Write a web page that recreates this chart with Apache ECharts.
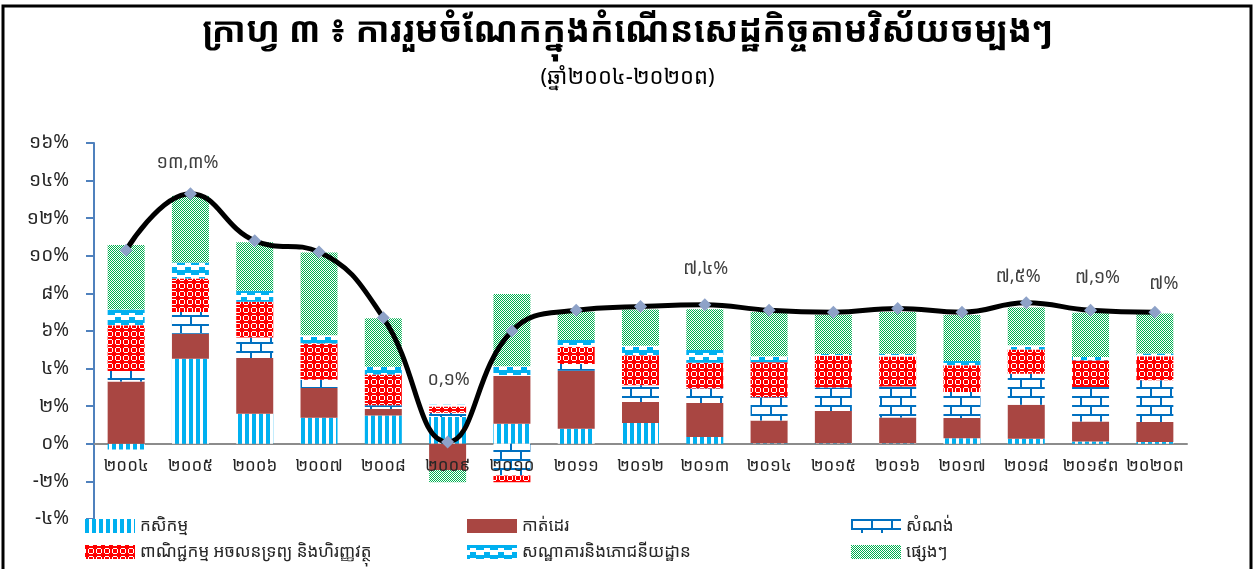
<!DOCTYPE html>
<html>
<head>
<meta charset="utf-8">
<script src="https://cdn.jsdelivr.net/npm/echarts@6/dist/echarts.min.js"></script>
<style>
  html,body{margin:0;padding:0;background:#fff;}
  #main{width:1255px;height:569px;}
</style>
</head>
<body>
<div id="main"></div>
<script>
// ឆ្នាំ
const years = ['២០០៤','២០០៥','២០០៦','២០០៧','២០០៨','២០០៩','២០១០','២០១១','២០១២','២០១៣','២០១៤','២០១៥','២០១៦','២០១៧','២០១៨','២០១៩ព','២០២០ព']

// ការរួមចំណែកតាមវិស័យ (%)
const agri         = [-0.30, 4.53, 1.60, 1.39, 1.51, 1.42, 1.07, 0.80, 1.10, 0.36, 0.03, 0.03, 0.03, 0.30, 0.27, 0.12, 0.09]
const garment      = [3.32, 1.33, 2.97, 1.58, 0.34, -1.39, 2.54, 3.08, 1.12, 1.81, 1.21, 1.72, 1.37, 1.07, 1.81, 1.07, 1.07]
const construction = [0.55, 1.15, 1.08, 0.44, 0.20, 0.23, -1.69, 0.36, 0.89, 0.77, 1.23, 1.24, 1.65, 1.39, 1.65, 1.83, 2.22]
const trade        = [2.44, 1.78, 1.90, 1.92, 1.64, 0.34, -0.36, 0.92, 1.60, 1.37, 1.87, 1.69, 1.60, 1.42, 1.28, 1.42, 1.28]
const hotel        = [0.84, 0.85, 0.59, 0.44, 0.41, 0.09, 0.52, 0.36, 0.50, 0.68, 0.32, 0.09, 0.14, 0.23, 0.23, 0.18, 0.14]
const other        = [3.43, 3.56, 2.58, 4.41, 2.58, -0.66, 3.84, 1.51, 1.94, 2.17, 2.35, 2.10, 2.22, 2.44, 2.01, 2.35, 2.13]

// កំណើនសេដ្ឋកិច្ចសរុប (%)
const growth = [10.3, 13.3, 10.8, 10.2, 6.7, 0.1, 6.0, 7.1, 7.3, 7.4, 7.1, 7.0, 7.2, 7.0, 7.5, 7.1, 7.0]
// ចំណុចដែលមានស្លាក
const labelIdx = [1, 5, 9, 14, 15, 16]

const names = ['កសិកម្ម','កាត់ដេរ','សំណង់','ពាណិជ្ជកម្ម អចលនទ្រព្យ និងហិរញ្ញវត្ថុ','សណ្ឋាគារនិងភោជនីយដ្ឋាន','ផ្សេងៗ']

const khFont = "'Noto Sans Khmer','Khmer OS Battambang','Noto Sans',sans-serif"
const khDigits = '០១២៣៤៥៦៧៨៩'
function toKh(s){
  return String(s).replace(/[0-9]/g, d => khDigits[+d])
}
function pctLabel(v){
  let s = (v % 1 === 0) ? String(v) : v.toFixed(1).replace('.', ',')
  return toKh(s) + '%'
}

// pattern fills, drawn on small canvases
function pattern(w, h, draw){
  let c = document.createElement('canvas')
  c.width = w; c.height = h
  let ctx = c.getContext('2d')
  ctx.fillStyle = '#fff'
  ctx.fillRect(0, 0, w, h)
  draw(ctx)
  return {image: c, repeat: 'repeat'}
}
const pStripes = pattern(7, 4, ctx => {
  ctx.fillStyle = '#00B0F0'
  ctx.fillRect(0, 0, 4, 4)
})
const pBrick = pattern(20, 18, ctx => {
  ctx.fillStyle = '#0070C0'
  ctx.fillRect(0, 0, 20, 2)
  ctx.fillRect(0, 9, 20, 2)
  ctx.fillRect(0, 0, 2, 9)
  ctx.fillRect(10, 9, 2, 9)
})
const pCheck = pattern(8, 8, ctx => {
  ctx.fillStyle = '#FF0000'
  ctx.fillRect(0, 0, 4, 4)
  ctx.fillRect(4, 4, 4, 4)
  ctx.fillRect(1, 4, 2, 4)
  ctx.fillRect(4, 1, 4, 2)
})
const pHotel = pattern(14, 10, ctx => {
  ctx.fillStyle = '#00B0F0'
  ctx.fillRect(0, 0, 14, 3)
  ctx.fillRect(0, 3, 3, 2)
  ctx.fillRect(9, 3, 5, 2)
  ctx.fillRect(3, 7, 6, 3)
})
const pGreen = pattern(2, 2, ctx => {
  ctx.fillStyle = '#00B050'
  ctx.fillRect(0, 0, 1, 1)
  ctx.fillRect(1, 1, 1, 1)
})
const fills = [pStripes, '#A94642', pBrick, pCheck, pHotel, pGreen]
const sectorData = [agri, garment, construction, trade, hotel, other]

// label placement per labelled point
const labelStyle = {
  1: {distance: 15, offset: [-3, 0]},
  5: {distance: 47, offset: [1, 0]},
  9: {distance: 20, offset: [1, 0]},
  14: {distance: 10, offset: [-8, 0]},
  15: {distance: 17, offset: [7, 0]},
  16: {distance: 13, offset: [9, 0]}
}

let lineData = growth.map((v, i) => {
  if (labelIdx.indexOf(i) < 0) return v
  let st = labelStyle[i]
  return {
    value: v,
    label: {
      show: true, position: 'top', distance: st.distance, offset: st.offset,
      formatter: p => pctLabel(p.value),
      fontSize: 18, color: '#404040', fontFamily: khFont
    }
  }
})

let series = sectorData.map((d, i) => ({
  name: names[i],
  type: 'bar',
  stack: 'total',
  barWidth: 37,
  data: d,
  itemStyle: {color: fills[i]},
  emphasis: {disabled: true}
}))
series.push({
  name: 'កំណើន',
  type: 'line',
  data: lineData,
  smooth: 0.45,
  z: 10,
  symbol: 'diamond',
  symbolSize: 13,
  itemStyle: {color: '#8EA2C8'},
  lineStyle: {color: '#000', width: 5},
  label: {show: false}
})

const legendBase = {
  orient: 'vertical',
  top: 516,
  padding: 0,
  itemWidth: 50,
  itemHeight: 14,
  itemGap: 6,
  icon: 'rect',
  textStyle: {fontSize: 17, color: '#262626', fontFamily: khFont, lineHeight: 20}
}

let chart = echarts.init(document.getElementById('main'), null, {renderer: 'canvas'})
chart.setOption({
  animation: false,
  textStyle: {fontFamily: khFont},
  title: [{
    text: 'ក្រាហ្វ ៣ ៖ ការរួមចំណែកក្នុងកំណើនសេដ្ឋកិច្ចតាមវិស័យចម្បងៗ',
    left: 'center', top: 10,
    textStyle: {fontSize: 35, fontWeight: 'bold', color: '#000', fontFamily: khFont}
  }, {
    text: '(ឆ្នាំ' + toKh('2004') + '-' + toKh('2020') + 'ព)',
    left: 'center', top: 62,
    textStyle: {fontSize: 22, fontWeight: 'normal', color: '#000', fontFamily: khFont}
  }],
  graphic: [{
    type: 'rect',
    shape: {x: 3, y: 6, width: 1248, height: 600},
    style: {fill: 'none', stroke: '#000', lineWidth: 3},
    silent: true
  }],
  grid: {left: 94, right: 68, top: 143, bottom: 50},
  legend: [
    Object.assign({left: 85, data: [names[0], names[3]]}, legendBase),
    Object.assign({left: 467, data: [names[1], names[4]]}, legendBase),
    Object.assign({left: 851, data: [names[2], names[5]]}, legendBase)
  ],
  xAxis: [{
    // axis line at zero
    type: 'category',
    position: 'bottom',
    data: years,
    axisTick: {show: false},
    axisLine: {onZero: true, lineStyle: {color: '#8C8C8C', width: 2}},
    axisLabel: {show: false}
  }, {
    // labels just below zero line, drawn over the bars
    type: 'category',
    position: 'bottom',
    offset: -75,
    z: 5,
    data: years,
    axisTick: {show: false},
    axisLine: {show: false, onZero: false},
    axisLabel: {fontSize: 17, color: '#262626', margin: 14, interval: 0, fontFamily: khFont}
  }],
  yAxis: {
    type: 'value',
    min: -4, max: 16, interval: 2,
    splitLine: {show: false},
    axisLine: {show: true, lineStyle: {color: '#4F81BD', width: 2}},
    axisTick: {show: true, length: 8, lineStyle: {color: '#4F81BD', width: 2}},
    axisLabel: {fontSize: 19, color: '#262626', margin: 25, fontFamily: khFont,
      formatter: v => toKh(v) + '%'}
  },
  series: series
})
</script>
</body>
</html>
